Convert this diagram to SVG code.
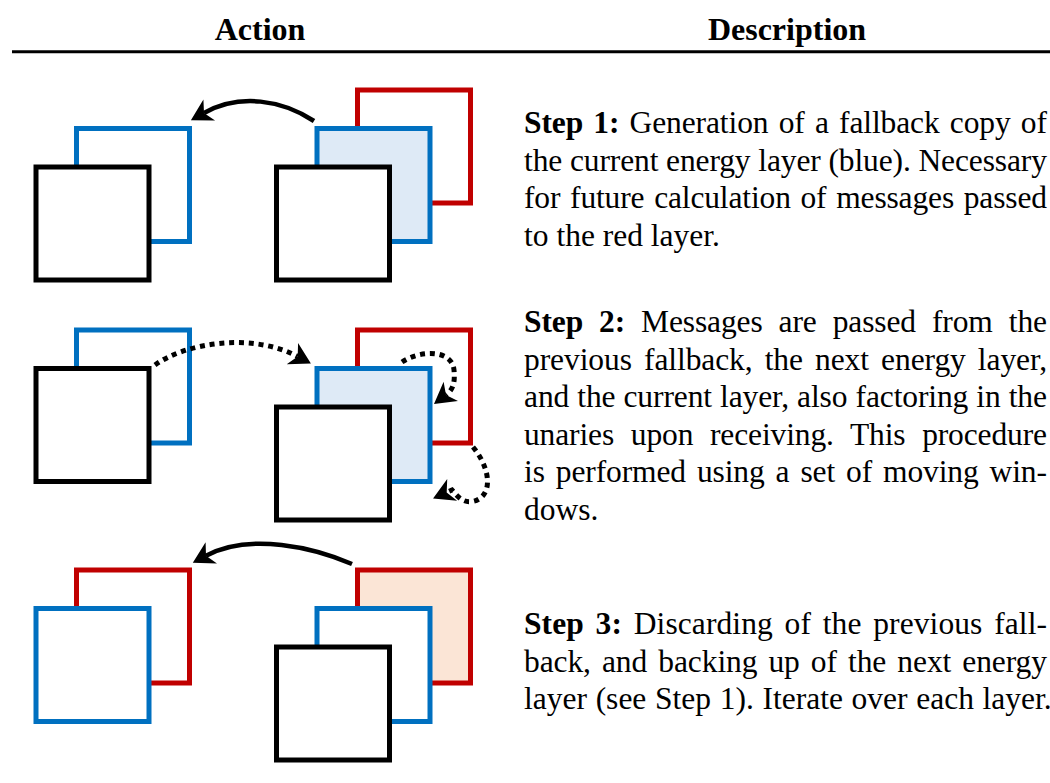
<svg xmlns="http://www.w3.org/2000/svg" width="1050" height="783" viewBox="0 0 1050 783">
  <defs>
    <style>
      .hdr { font-family: "Liberation Serif", "Times New Roman", serif; font-size: 32px; font-weight: bold; fill: #000; text-anchor: middle; }
      .txt { font-family: "Liberation Serif", "Times New Roman", serif; font-size: 31.5px; fill: #000; }
      .b { font-weight: bold; }
      .layer { stroke-width: 5; fill: #fff; }
      .blk { stroke: #000; }
      .blu { stroke: #0070C0; }
      .red { stroke: #C00000; }
      .fill-blue { fill: #DEEAF6; }
      .fill-peach { fill: #FBE5D6; }
      .solid { fill: none; stroke: #000; stroke-width: 4.5; marker-end: url(#head); }
      .dotted { fill: none; stroke: #000; stroke-width: 5; stroke-dasharray: 5 4.8; marker-end: url(#head); }
    </style>
    <marker id="head" markerUnits="userSpaceOnUse" markerWidth="26" markerHeight="28" refX="3" refY="0" viewBox="-5 -14 26 28" orient="auto">
      <path d="M18,0 L-3,-12 L3,0 L-3,12 Z" fill="#000"/>
    </marker>
  </defs>

  <!-- table header -->
  <g id="header">
    <text class="hdr" x="260" y="39.5">Action</text>
    <text class="hdr" x="787" y="39.5">Description</text>
    <line x1="12" y1="51.7" x2="1050" y2="51.7" stroke="#000" stroke-width="3"/>
  </g>

  <!-- step 1: copy the current (blue) layer -->
  <g id="step1-fallback">
    <rect class="layer blu" x="76.5" y="128.5" width="113" height="113"/>
    <rect class="layer blk" x="36" y="167" width="113" height="113"/>
  </g>
  <g id="step1-stack">
    <rect class="layer red" x="357.5" y="90" width="113" height="113"/>
    <rect class="layer blu fill-blue" x="317" y="128.5" width="113" height="113"/>
    <rect class="layer blk" x="276.5" y="167" width="113" height="113"/>
  </g>

  <!-- step 2: message passing -->
  <g id="step2-fallback">
    <rect class="layer blu" x="76.5" y="330" width="113" height="113"/>
    <rect class="layer blk" x="36" y="368.5" width="113" height="113"/>
  </g>
  <g id="step2-stack">
    <rect class="layer red" x="357.5" y="330" width="113" height="113"/>
    <rect class="layer blu fill-blue" x="317" y="368.5" width="113" height="113"/>
    <rect class="layer blk" x="276.5" y="407" width="113" height="113"/>
  </g>

  <!-- step 3: discard and back up -->
  <g id="step3-fallback">
    <rect class="layer red" x="76.5" y="570" width="113" height="113"/>
    <rect class="layer blu" x="36" y="608.5" width="113" height="113"/>
  </g>
  <g id="step3-stack">
    <rect class="layer red fill-peach" x="357.5" y="570" width="113" height="113"/>
    <rect class="layer blu" x="317" y="608.5" width="113" height="113"/>
    <rect class="layer blk" x="276.5" y="647" width="113" height="113"/>
  </g>

  <!-- connectors -->
  <g id="connectors">
    <path class="solid" d="M314,121 C282,100 240,93 204,113"/>
    <path class="dotted" d="M155,365 C185,343 252,332 297.7,356.5"/>
    <path class="dotted" d="M402,362 C420,350 452,349 454,370 C455,381 454,389 446,395"/>
    <path class="dotted" d="M473,447 C492,470 493,498 472,501.5 C463,503 458,497 452,490 L446.7,492.4"/>
    <path class="solid" d="M352,564 C315,548 250,532 206,555.7"/>
  </g>

  <!-- descriptions -->
  <g id="desc1">
    <text class="txt" x="524" y="133" word-spacing="2.5" textLength="523" lengthAdjust="spacing"><tspan class="b">Step 1:</tspan> Generation of a fallback copy of</text>
    <text class="txt" x="524" y="170.5" word-spacing="0" textLength="523" lengthAdjust="spacing">the current energy layer (blue). Necessary</text>
    <text class="txt" x="524" y="208" word-spacing="2" textLength="523" lengthAdjust="spacing">for future calculation of messages passed</text>
    <text class="txt" x="524" y="245.5">to the red layer.</text>
  </g>
  <g id="desc2">
    <text class="txt" x="524" y="332" word-spacing="8.2" textLength="523" lengthAdjust="spacing"><tspan class="b">Step 2:</tspan> Messages are passed from the</text>
    <text class="txt" x="524" y="369.5" word-spacing="4.3" textLength="523" lengthAdjust="spacing">previous fallback, the next energy layer,</text>
    <text class="txt" x="524" y="407" word-spacing="0.3" textLength="523" lengthAdjust="spacing">and the current layer, also factoring in the</text>
    <text class="txt" x="524" y="444.5" word-spacing="9" textLength="523" lengthAdjust="spacing">unaries upon receiving. This procedure</text>
    <text class="txt" x="524" y="482" word-spacing="3.2" textLength="523" lengthAdjust="spacing">is performed using a set of moving win-</text>
    <text class="txt" x="524" y="519.5">dows.</text>
  </g>
  <g id="desc3">
    <text class="txt" x="524" y="634" word-spacing="3.8" textLength="523" lengthAdjust="spacing"><tspan class="b">Step 3:</tspan> Discarding of the previous fall-</text>
    <text class="txt" x="524" y="671.5" word-spacing="3.3" textLength="523" lengthAdjust="spacing">back, and backing up of the next energy</text>
    <text class="txt" x="524" y="709" word-spacing="0.8">layer (see Step 1). Iterate over each layer.</text>
  </g>
</svg>
